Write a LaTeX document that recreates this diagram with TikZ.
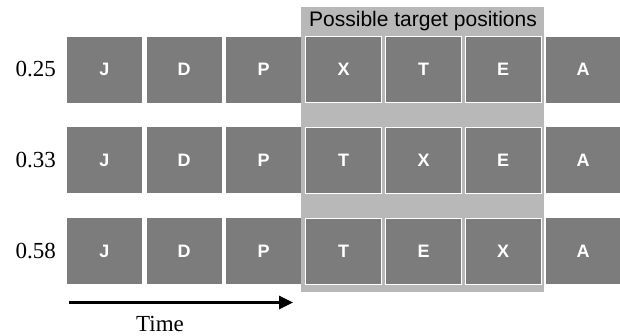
\documentclass[tikz,border=0pt]{standalone}
\usepackage{fontspec}
\setmainfont{Liberation Serif}
\newfontfamily\arialf{Liberation Sans}
\usetikzlibrary{arrows.meta}
\definecolor{boxgray}{HTML}{7C7C7C}
\definecolor{hlgray}{HTML}{B8B8B8}
\begin{document}
\begin{tikzpicture}[x=1pt,y=-1pt,
  letterbox/.style={fill=boxgray,draw=none,minimum width=75pt,minimum height=66pt,inner sep=0pt,
    text=white,font=\arialf\bfseries\fontsize{18}{18}\selectfont},
  targetbox/.style={letterbox,draw=white,line width=0.8pt},
  rowlabel/.style={font=\fontsize{23}{23}\selectfont,anchor=east,inner sep=0pt}]
\useasboundingbox (0,0) rectangle (620,335);
% highlight region
\node[fill=hlgray,minimum width=243pt,minimum height=285pt,inner sep=0pt,anchor=north west] (hl) at (301,7) {};
\node[font=\arialf\fontsize{21}{21}\selectfont,inner sep=0pt] (title) at (423,21) {Possible target positions};
% rows
\foreach \r/\y/\lab/\a/\b/\c in {1/69.5/0.25/X/T/E, 2/160/0.33/T/X/E, 3/251/0.58/T/E/X}{
  \node[rowlabel] (lab\r) at (56,\y) {\lab};
  \node[letterbox] (b\r1) at (104.5,\y) {J};
  \node[letterbox] (b\r2) at (184,\y) {D};
  \node[letterbox] (b\r3) at (263.5,\y) {P};
  \node[targetbox,minimum width=76pt] (b\r4) at (343.5,\y) {\a};
  \node[targetbox,minimum width=76pt] (b\r5) at (423.5,\y) {\b};
  \node[targetbox,minimum width=76pt] (b\r6) at (503,\y) {\c};
  \node[letterbox] (b\r7) at (583,\y) {A};
}
% time arrow
\coordinate (t0) at (69,302.5);
\coordinate (t1) at (293,302.5);
\draw[line width=3pt,-{Triangle[length=14pt,width=13pt]}] (t0) -- (t1);
\node[font=\fontsize{23}{23}\selectfont,inner sep=0pt] (time) at (160,324) {Time};
\end{tikzpicture}
\end{document}
